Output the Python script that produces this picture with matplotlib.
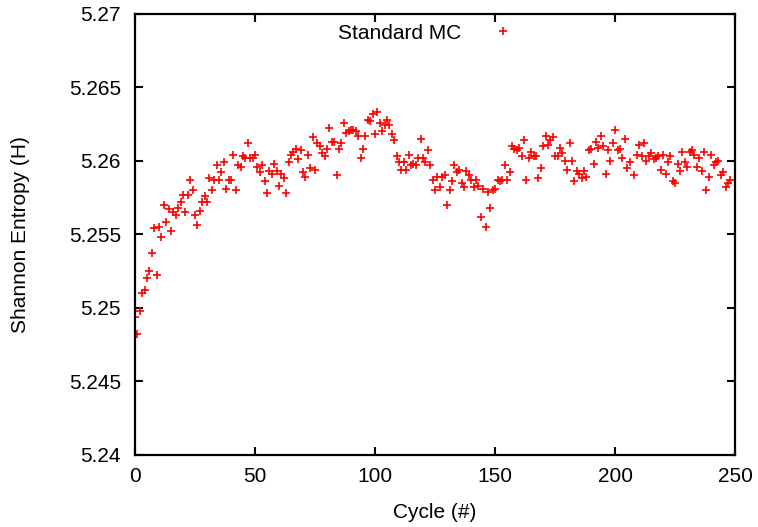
"""
Shannon entropy per cycle for the standard MC run (gnuplot-style scatter).
Writes out.png.
"""
import matplotlib
matplotlib.use("Agg")
import matplotlib.pyplot as plt
from matplotlib.ticker import FuncFormatter

plt.rcParams["font.family"] = ["Liberation Sans", "DejaVu Sans"]

# cycles (207 was not readable on the source picture)
CYCLES = list(range(0, 207)) + list(range(208, 249))

ENTROPY = [
    5.2494, 5.2482, 5.2498, 5.2510, 5.2512, 5.2520, 5.2525, 5.2537, 5.2554, 5.2522,
    5.2555, 5.2548, 5.2570, 5.2558, 5.2567, 5.2552, 5.2565, 5.2563, 5.2568, 5.2572,
    5.2577, 5.2565, 5.2577, 5.2587, 5.2580, 5.2563, 5.2556, 5.2566, 5.2572, 5.2576,
    5.2572, 5.2588, 5.2580, 5.2587, 5.2597, 5.2587, 5.2592, 5.2599, 5.2581, 5.2587,
    5.2587, 5.2604, 5.2580, 5.2597, 5.2596, 5.2603, 5.2602, 5.2612, 5.2602, 5.2602,
    5.2604, 5.2596, 5.2592, 5.2597, 5.2586, 5.2578, 5.2593, 5.2591, 5.2598, 5.2593,
    5.2583, 5.2591, 5.2588, 5.2578, 5.2599, 5.2604, 5.2606, 5.2608, 5.2601, 5.2607,
    5.2592, 5.2589, 5.2604, 5.2595, 5.2616, 5.2594, 5.2612, 5.2610, 5.2605, 5.2603,
    5.2608, 5.2622, 5.2613, 5.2613, 5.2590, 5.2608, 5.2612, 5.2626, 5.2619, 5.2620,
    5.2621, 5.2621, 5.2620, 5.2617, 5.2602, 5.2608, 5.2617, 5.2628, 5.2627, 5.2632,
    5.2618, 5.2633, 5.2626, 5.2620, 5.2624, 5.2628, 5.2624, 5.2618, 5.2614, 5.2603,
    5.2599, 5.2594, 5.2599, 5.2594, 5.2604, 5.2597, 5.2598, 5.2597, 5.2602, 5.2615,
    5.2602, 5.2599, 5.2607, 5.2597, 5.2587, 5.2580, 5.2589, 5.2582, 5.2589, 5.2590,
    5.2570, 5.2580, 5.2586, 5.2597, 5.2592, 5.2594, 5.2585, 5.2582, 5.2593, 5.2590,
    5.2587, 5.2582, 5.2587, 5.2583, 5.2562, 5.2581, 5.2555, 5.2579, 5.2568, 5.2580,
    5.2581, 5.2587, 5.2586, 5.2587, 5.2597, 5.2587, 5.2592, 5.2610, 5.2608, 5.2607,
    5.2609, 5.2603, 5.2614, 5.2587, 5.2602, 5.2606, 5.2603, 5.2603, 5.2588, 5.2595,
    5.2610, 5.2617, 5.2611, 5.2614, 5.2616, 5.2603, 5.2603, 5.2609, 5.2605, 5.2600,
    5.2594, 5.2612, 5.2600, 5.2586, 5.2593, 5.2591, 5.2588, 5.2593, 5.2589, 5.2607,
    5.2608, 5.2598, 5.2613, 5.2609, 5.2617, 5.2610, 5.2591, 5.2607, 5.2600, 5.2612,
    5.2621, 5.2607, 5.2608, 5.2602, 5.2615, 5.2595, 5.2599,
    5.2590, 5.2604, 5.2611, 5.2603, 5.2612, 5.2600, 5.2603, 5.2605, 5.2601, 5.2602,
    5.2603, 5.2594, 5.2604, 5.2591, 5.2599, 5.2603, 5.2586, 5.2585, 5.2598, 5.2593,
    5.2606, 5.2599, 5.2596, 5.2606, 5.2607, 5.2604, 5.2596, 5.2602, 5.2593, 5.2606,
    5.2580, 5.2589, 5.2604, 5.2597, 5.2599, 5.2600, 5.2590, 5.2592, 5.2582, 5.2585,
    5.2587,
]

X_TICKS = [0, 50, 100, 150, 200, 250]
Y_TICKS = [5.24, 5.245, 5.25, 5.255, 5.26, 5.265, 5.27]

FS = 15


def main():
    fig = plt.figure(figsize=(7.58, 5.27), dpi=100)
    ax = fig.add_axes([0.178, 0.137, 0.792, 0.837])

    ax.plot(CYCLES, ENTROPY, linestyle="none", marker="+", color="#ff0000",
            markersize=5.5, markeredgewidth=1.2, label="Standard MC")

    ax.set_xlim(0, 250)
    ax.set_ylim(5.24, 5.27)
    ax.set_xticks(X_TICKS)
    ax.set_yticks(Y_TICKS)
    ax.yaxis.set_major_formatter(FuncFormatter(lambda v, p: f"{v:g}"))
    ax.tick_params(direction="in", length=6, width=1.5, labelsize=FS,
                   top=True, right=True)
    ax.tick_params(axis="y", pad=10)
    ax.tick_params(axis="x", pad=9)
    for s in ax.spines.values():
        s.set_linewidth(1.6)

    ax.set_xlabel("Cycle (#)", fontsize=FS, labelpad=12)
    ax.set_ylabel("Shannon Entropy (H)", fontsize=FS, labelpad=28)

    ax.legend(loc="center right", bbox_to_anchor=(0.677, 0.937),
              bbox_transform=fig.transFigure, frameon=False,
              markerfirst=False, fontsize=FS, handlelength=1.0,
              handletextpad=1.47, borderpad=0, borderaxespad=0)

    fig.savefig("out.png", dpi=100)
    plt.close(fig)


if __name__ == "__main__":
    main()
